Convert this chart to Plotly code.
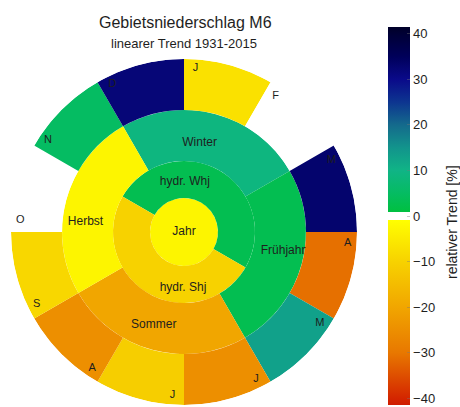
import plotly.graph_objects as go

# Relative linear precipitation trend 1931-2015 [%]
year_label = "Jahr"
year_trend = -3

half_labels = ["hydr. Whj", "hydr. Shj"]
half_trend = [3, -10]

season_labels = ["Winter", "Frühjahr", "Sommer", "Herbst"]
season_trend = [9, 3, -20, -3]

month_labels = ["J", "F", "M", "A", "M", "J", "J", "A", "S", "O", "N", "D"]
month_trend = [-7, 0, 33, -31, 13, -25, -11, -25, -9, 0, 5, 32]

colorbar_ticks = [-40, -30, -20, -10, 0, 10, 20, 30, 40]

# ring boundaries (radial units)
R = [0, 34, 71, 122, 173]
CMIN, CMAX = -41.5, 41.5


def pos(v):
    return (v - CMIN) / (CMAX - CMIN)


stops = [
    (-41.5, "#cf1c00"), (-40, "#d42600"), (-30, "#e87800"), (-20, "#f1a600"),
    (-10, "#f7d200"), (-0.9, "#ffff00"), (-0.9, "#ffffff"), (0.9, "#ffffff"),
    (0.9, "#00c040"), (5, "#05bc62"), (10, "#10b486"), (15, "#12948c"),
    (20, "#146a8c"), (25, "#0d3590"), (30, "#0a0a8a"), (35, "#00005a"),
    (40, "#000035"), (41.5, "#000028"),
]
colorscale = [[pos(v), c] for v, c in stops]

FONT = "Liberation Sans, Arial, sans-serif"
TEXT = "#1e1e1e"

# angles: clockwise from top, January starts at 12 o'clock
month_theta = [15 + 30 * i for i in range(12)]
season_theta = [15, 105, 195, 285]
half_theta = [30, 210]

fig = go.Figure()


def ring(theta, width, values, r0, r1, showscale=False):
    fig.add_trace(go.Barpolar(
        theta=theta,
        width=width,
        r=[r1 - r0] * len(theta),
        base=[r0] * len(theta),
        marker=dict(
            color=values, colorscale=colorscale, cmin=CMIN, cmax=CMAX,
            line=dict(width=0),
            showscale=showscale,
            colorbar=dict(
                x=388 / 460, xanchor="left", xpad=0, ypad=0,
                y=1 - 216 / 407, yanchor="middle",
                len=378, lenmode="pixels", thickness=22,
                outlinewidth=0,
                tickvals=colorbar_ticks,
                ticks="inside", ticklen=3, tickcolor="rgba(120,120,120,0.4)",
                tickfont=dict(family=FONT, size=13, color=TEXT),
            ),
        ),
        hoverinfo="skip",
        showlegend=False,
    ))


ring([0], [360], [year_trend], R[0], R[1])
ring(half_theta, [180, 180], half_trend, R[1], R[2])
ring(season_theta, [90] * 4, season_trend, R[2], R[3])
ring(month_theta, [30] * 12, month_trend, R[3], R[4], showscale=True)

# labels
label_r = [0] + [50, 56] + [90, 101, 98, 99] + [164] * 12
label_theta = [0] + [1, 181] + [10, 101, 198, 276] + [30 * i + 4 for i in range(12)]
label_text = [year_label] + half_labels + season_labels + month_labels
label_size = [12] * 7 + [11] * 12
fig.add_trace(go.Scatterpolar(
    r=label_r, theta=label_theta, text=label_text, mode="text",
    textfont=dict(family=FONT, size=label_size, color=TEXT),
    hoverinfo="skip", showlegend=False,
))

fig.update_layout(
    width=460, height=407,
    margin=dict(l=0, r=0, t=0, b=0),
    paper_bgcolor="white",
    polar=dict(
        domain=dict(x=[11 / 460, 357 / 460], y=[2 / 407, 348 / 407]),
        bgcolor="white",
        radialaxis=dict(visible=False, range=[0, R[-1]]),
        angularaxis=dict(visible=False, rotation=90, direction="clockwise"),
        barmode="overlay",
    ),
    annotations=[
        dict(text="Gebietsniederschlag M6", x=185 / 460, y=1 - 23 / 407,
             xref="paper", yref="paper", showarrow=False,
             xanchor="center", yanchor="middle",
             font=dict(family=FONT, size=16, color=TEXT)),
        dict(text="linearer Trend 1931-2015", x=184 / 460, y=1 - 43 / 407,
             xref="paper", yref="paper", showarrow=False,
             xanchor="center", yanchor="middle",
             font=dict(family=FONT, size=13, color=TEXT)),
        # colour bar title
        dict(text="relativer Trend [%]", x=452 / 460, y=1 - 222 / 407,
             xref="paper", yref="paper", showarrow=False, textangle=-90,
             xanchor="center", yanchor="middle",
             font=dict(family=FONT, size=14, color=TEXT)),
    ],
)

fig.write_html("out.html")
